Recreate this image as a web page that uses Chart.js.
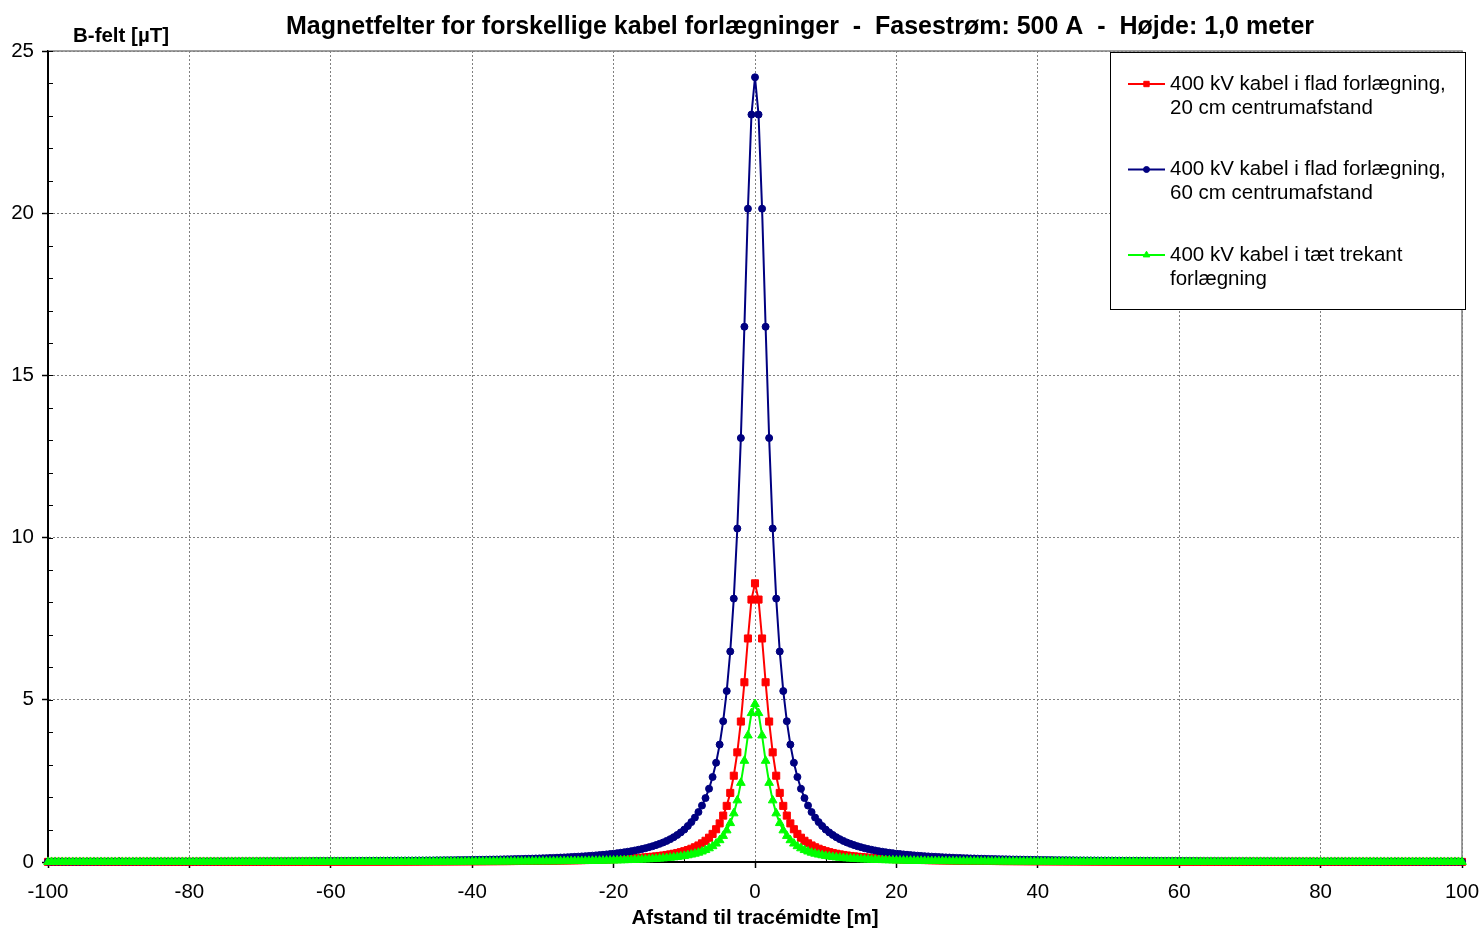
<!DOCTYPE html>
<html>
<head>
<meta charset="utf-8">
<title>Magnetfelter</title>
<script src="https://cdn.jsdelivr.net/npm/chart.js"></script>
<style>
  html, body { margin: 0; padding: 0; background: #fff; }
  canvas { display: block; }
</style>
</head>
<body>
<canvas id="chartField" width="1482" height="928"></canvas>
<script>
var chartTitle = "Magnetfelter for forskellige kabel forlægninger  -  Fasestrøm: 500 A  -  Højde: 1,0 meter";
var yTitle = "B-felt [µT]";
var xTitle = "Afstand til tracémidte [m]";

var legendRed = ["400 kV kabel i flad forlægning,", "20 cm centrumafstand"];
var legendBlue = ["400 kV kabel i flad forlægning,", "60 cm centrumafstand"];
var legendGreen = ["400 kV kabel i tæt trekant", "forlægning"];

// afstand [m], every 0.5 m
var distances = [
    -100, -99.5, -99, -98.5, -98, -97.5, -97, -96.5, -96, -95.5,
    -95, -94.5, -94, -93.5, -93, -92.5, -92, -91.5, -91, -90.5,
    -90, -89.5, -89, -88.5, -88, -87.5, -87, -86.5, -86, -85.5,
    -85, -84.5, -84, -83.5, -83, -82.5, -82, -81.5, -81, -80.5,
    -80, -79.5, -79, -78.5, -78, -77.5, -77, -76.5, -76, -75.5,
    -75, -74.5, -74, -73.5, -73, -72.5, -72, -71.5, -71, -70.5,
    -70, -69.5, -69, -68.5, -68, -67.5, -67, -66.5, -66, -65.5,
    -65, -64.5, -64, -63.5, -63, -62.5, -62, -61.5, -61, -60.5,
    -60, -59.5, -59, -58.5, -58, -57.5, -57, -56.5, -56, -55.5,
    -55, -54.5, -54, -53.5, -53, -52.5, -52, -51.5, -51, -50.5,
    -50, -49.5, -49, -48.5, -48, -47.5, -47, -46.5, -46, -45.5,
    -45, -44.5, -44, -43.5, -43, -42.5, -42, -41.5, -41, -40.5,
    -40, -39.5, -39, -38.5, -38, -37.5, -37, -36.5, -36, -35.5,
    -35, -34.5, -34, -33.5, -33, -32.5, -32, -31.5, -31, -30.5,
    -30, -29.5, -29, -28.5, -28, -27.5, -27, -26.5, -26, -25.5,
    -25, -24.5, -24, -23.5, -23, -22.5, -22, -21.5, -21, -20.5,
    -20, -19.5, -19, -18.5, -18, -17.5, -17, -16.5, -16, -15.5,
    -15, -14.5, -14, -13.5, -13, -12.5, -12, -11.5, -11, -10.5,
    -10, -9.5, -9, -8.5, -8, -7.5, -7, -6.5, -6, -5.5,
    -5, -4.5, -4, -3.5, -3, -2.5, -2, -1.5, -1, -0.5,
    0, 0.5, 1, 1.5, 2, 2.5, 3, 3.5, 4, 4.5,
    5, 5.5, 6, 6.5, 7, 7.5, 8, 8.5, 9, 9.5,
    10, 10.5, 11, 11.5, 12, 12.5, 13, 13.5, 14, 14.5,
    15, 15.5, 16, 16.5, 17, 17.5, 18, 18.5, 19, 19.5,
    20, 20.5, 21, 21.5, 22, 22.5, 23, 23.5, 24, 24.5,
    25, 25.5, 26, 26.5, 27, 27.5, 28, 28.5, 29, 29.5,
    30, 30.5, 31, 31.5, 32, 32.5, 33, 33.5, 34, 34.5,
    35, 35.5, 36, 36.5, 37, 37.5, 38, 38.5, 39, 39.5,
    40, 40.5, 41, 41.5, 42, 42.5, 43, 43.5, 44, 44.5,
    45, 45.5, 46, 46.5, 47, 47.5, 48, 48.5, 49, 49.5,
    50, 50.5, 51, 51.5, 52, 52.5, 53, 53.5, 54, 54.5,
    55, 55.5, 56, 56.5, 57, 57.5, 58, 58.5, 59, 59.5,
    60, 60.5, 61, 61.5, 62, 62.5, 63, 63.5, 64, 64.5,
    65, 65.5, 66, 66.5, 67, 67.5, 68, 68.5, 69, 69.5,
    70, 70.5, 71, 71.5, 72, 72.5, 73, 73.5, 74, 74.5,
    75, 75.5, 76, 76.5, 77, 77.5, 78, 78.5, 79, 79.5,
    80, 80.5, 81, 81.5, 82, 82.5, 83, 83.5, 84, 84.5,
    85, 85.5, 86, 86.5, 87, 87.5, 88, 88.5, 89, 89.5,
    90, 90.5, 91, 91.5, 92, 92.5, 93, 93.5, 94, 94.5,
    95, 95.5, 96, 96.5, 97, 97.5, 98, 98.5, 99, 99.5,
    100
];

// 400 kV flad, 20 cm [uT]
var field20cm = [
    0.003,
    0.004, 0.004, 0.004, 0.004, 0.004, 0.004, 0.004, 0.004, 0.004, 0.004,
    0.004, 0.004, 0.004, 0.004, 0.004, 0.004, 0.004, 0.004, 0.004, 0.004,
    0.004, 0.004, 0.004, 0.004, 0.004, 0.005, 0.005, 0.005, 0.005, 0.005,
    0.005, 0.005, 0.005, 0.005, 0.005, 0.005, 0.005, 0.005, 0.005, 0.005,
    0.005, 0.006, 0.006, 0.006, 0.006, 0.006, 0.006, 0.006, 0.006, 0.006,
    0.006, 0.006, 0.006, 0.006, 0.007, 0.007, 0.007, 0.007, 0.007, 0.007,
    0.007, 0.007, 0.007, 0.007, 0.008, 0.008, 0.008, 0.008, 0.008, 0.008,
    0.008, 0.008, 0.009, 0.009, 0.009, 0.009, 0.009, 0.009, 0.010, 0.010,
    0.010, 0.010, 0.010, 0.010, 0.011, 0.011, 0.011, 0.011, 0.011, 0.011,
    0.012, 0.012, 0.012, 0.012, 0.013, 0.013, 0.013, 0.013, 0.014, 0.014,
    0.014, 0.014, 0.015, 0.015, 0.015, 0.016, 0.016, 0.016, 0.017, 0.017,
    0.017, 0.018, 0.018, 0.019, 0.019, 0.020, 0.020, 0.021, 0.021, 0.022,
    0.022, 0.023, 0.023, 0.024, 0.025, 0.025, 0.026, 0.027, 0.027, 0.028,
    0.029, 0.030, 0.031, 0.032, 0.033, 0.034, 0.035, 0.036, 0.037, 0.038,
    0.040, 0.041, 0.042, 0.044, 0.046, 0.047, 0.049, 0.051, 0.053, 0.055,
    0.057, 0.060, 0.062, 0.065, 0.068, 0.071, 0.074, 0.078, 0.082, 0.086,
    0.090, 0.095, 0.100, 0.106, 0.112, 0.118, 0.125, 0.133, 0.142, 0.151,
    0.162, 0.173, 0.186, 0.200, 0.216, 0.234, 0.254, 0.277, 0.303, 0.333,
    0.368, 0.408, 0.454, 0.509, 0.575, 0.654, 0.749, 0.866, 1.01, 1.19,
    1.43, 1.73, 2.13, 2.66, 3.38, 4.33, 5.54, 6.89, 8.09,
    8.59,
    8.09, 6.89, 5.54, 4.33, 3.38, 2.66, 2.13, 1.73, 1.43,
    1.19, 1.01, 0.866, 0.749, 0.654, 0.575, 0.509, 0.454, 0.408, 0.368,
    0.333, 0.303, 0.277, 0.254, 0.234, 0.216, 0.200, 0.186, 0.173, 0.162,
    0.151, 0.142, 0.133, 0.125, 0.118, 0.112, 0.106, 0.100, 0.095, 0.090,
    0.086, 0.082, 0.078, 0.074, 0.071, 0.068, 0.065, 0.062, 0.060, 0.057,
    0.055, 0.053, 0.051, 0.049, 0.047, 0.046, 0.044, 0.042, 0.041, 0.040,
    0.038, 0.037, 0.036, 0.035, 0.034, 0.033, 0.032, 0.031, 0.030, 0.029,
    0.028, 0.027, 0.027, 0.026, 0.025, 0.025, 0.024, 0.023, 0.023, 0.022,
    0.022, 0.021, 0.021, 0.020, 0.020, 0.019, 0.019, 0.018, 0.018, 0.017,
    0.017, 0.017, 0.016, 0.016, 0.016, 0.015, 0.015, 0.015, 0.014, 0.014,
    0.014, 0.014, 0.013, 0.013, 0.013, 0.013, 0.012, 0.012, 0.012, 0.012,
    0.011, 0.011, 0.011, 0.011, 0.011, 0.011, 0.010, 0.010, 0.010, 0.010,
    0.010, 0.010, 0.009, 0.009, 0.009, 0.009, 0.009, 0.009, 0.008, 0.008,
    0.008, 0.008, 0.008, 0.008, 0.008, 0.008, 0.007, 0.007, 0.007, 0.007,
    0.007, 0.007, 0.007, 0.007, 0.007, 0.007, 0.006, 0.006, 0.006, 0.006,
    0.006, 0.006, 0.006, 0.006, 0.006, 0.006, 0.006, 0.006, 0.006, 0.005,
    0.005, 0.005, 0.005, 0.005, 0.005, 0.005, 0.005, 0.005, 0.005, 0.005,
    0.005, 0.005, 0.005, 0.005, 0.005, 0.004, 0.004, 0.004, 0.004, 0.004,
    0.004, 0.004, 0.004, 0.004, 0.004, 0.004, 0.004, 0.004, 0.004, 0.004,
    0.004, 0.004, 0.004, 0.004, 0.004, 0.004, 0.004, 0.004, 0.004, 0.004,
    0.003
];

// 400 kV flad, 60 cm [uT]
var field60cm = [
    0.010,
    0.011, 0.011, 0.011, 0.011, 0.011, 0.011, 0.011, 0.011, 0.011, 0.012,
    0.012, 0.012, 0.012, 0.012, 0.012, 0.012, 0.012, 0.013, 0.013, 0.013,
    0.013, 0.013, 0.013, 0.013, 0.014, 0.014, 0.014, 0.014, 0.014, 0.014,
    0.015, 0.015, 0.015, 0.015, 0.015, 0.016, 0.016, 0.016, 0.016, 0.016,
    0.016, 0.017, 0.017, 0.017, 0.017, 0.018, 0.018, 0.018, 0.018, 0.019,
    0.019, 0.019, 0.019, 0.020, 0.020, 0.020, 0.020, 0.021, 0.021, 0.021,
    0.022, 0.022, 0.022, 0.023, 0.023, 0.023, 0.024, 0.024, 0.024, 0.025,
    0.025, 0.025, 0.026, 0.026, 0.027, 0.027, 0.028, 0.028, 0.028, 0.029,
    0.029, 0.030, 0.030, 0.031, 0.031, 0.032, 0.033, 0.033, 0.034, 0.034,
    0.035, 0.036, 0.036, 0.037, 0.038, 0.038, 0.039, 0.040, 0.041, 0.042,
    0.042, 0.043, 0.044, 0.045, 0.046, 0.047, 0.048, 0.049, 0.050, 0.051,
    0.052, 0.054, 0.055, 0.056, 0.057, 0.059, 0.060, 0.062, 0.063, 0.065,
    0.066, 0.068, 0.070, 0.072, 0.074, 0.076, 0.078, 0.080, 0.082, 0.085,
    0.087, 0.090, 0.092, 0.095, 0.098, 0.101, 0.104, 0.108, 0.111, 0.115,
    0.119, 0.123, 0.127, 0.132, 0.137, 0.142, 0.147, 0.153, 0.159, 0.165,
    0.172, 0.179, 0.187, 0.195, 0.204, 0.213, 0.223, 0.234, 0.245, 0.257,
    0.271, 0.285, 0.300, 0.317, 0.335, 0.355, 0.377, 0.400, 0.426, 0.455,
    0.486, 0.521, 0.559, 0.602, 0.650, 0.704, 0.765, 0.834, 0.913, 1.00,
    1.11, 1.23, 1.37, 1.54, 1.74, 1.97, 2.26, 2.62, 3.06, 3.62,
    4.34, 5.27, 6.49, 8.12, 10.28, 13.07, 16.50, 20.14, 23.04,
    24.19,
    23.04, 20.14, 16.50, 13.07, 10.28, 8.12, 6.49, 5.27, 4.34,
    3.62, 3.06, 2.62, 2.26, 1.97, 1.74, 1.54, 1.37, 1.23, 1.11,
    1.00, 0.913, 0.834, 0.765, 0.704, 0.650, 0.602, 0.559, 0.521, 0.486,
    0.455, 0.426, 0.400, 0.377, 0.355, 0.335, 0.317, 0.300, 0.285, 0.271,
    0.257, 0.245, 0.234, 0.223, 0.213, 0.204, 0.195, 0.187, 0.179, 0.172,
    0.165, 0.159, 0.153, 0.147, 0.142, 0.137, 0.132, 0.127, 0.123, 0.119,
    0.115, 0.111, 0.108, 0.104, 0.101, 0.098, 0.095, 0.092, 0.090, 0.087,
    0.085, 0.082, 0.080, 0.078, 0.076, 0.074, 0.072, 0.070, 0.068, 0.066,
    0.065, 0.063, 0.062, 0.060, 0.059, 0.057, 0.056, 0.055, 0.054, 0.052,
    0.051, 0.050, 0.049, 0.048, 0.047, 0.046, 0.045, 0.044, 0.043, 0.042,
    0.042, 0.041, 0.040, 0.039, 0.038, 0.038, 0.037, 0.036, 0.036, 0.035,
    0.034, 0.034, 0.033, 0.033, 0.032, 0.031, 0.031, 0.030, 0.030, 0.029,
    0.029, 0.028, 0.028, 0.028, 0.027, 0.027, 0.026, 0.026, 0.025, 0.025,
    0.025, 0.024, 0.024, 0.024, 0.023, 0.023, 0.023, 0.022, 0.022, 0.022,
    0.021, 0.021, 0.021, 0.020, 0.020, 0.020, 0.020, 0.019, 0.019, 0.019,
    0.019, 0.018, 0.018, 0.018, 0.018, 0.017, 0.017, 0.017, 0.017, 0.016,
    0.016, 0.016, 0.016, 0.016, 0.016, 0.015, 0.015, 0.015, 0.015, 0.015,
    0.014, 0.014, 0.014, 0.014, 0.014, 0.014, 0.013, 0.013, 0.013, 0.013,
    0.013, 0.013, 0.013, 0.012, 0.012, 0.012, 0.012, 0.012, 0.012, 0.012,
    0.012, 0.011, 0.011, 0.011, 0.011, 0.011, 0.011, 0.011, 0.011, 0.011,
    0.010
];

// 400 kV tæt trekant [uT]
var fieldTrefoil = [
    0.002,
    0.002, 0.002, 0.002, 0.002, 0.002, 0.002, 0.002, 0.002, 0.002, 0.002,
    0.002, 0.002, 0.002, 0.002, 0.002, 0.002, 0.002, 0.002, 0.002, 0.002,
    0.003, 0.003, 0.003, 0.003, 0.003, 0.003, 0.003, 0.003, 0.003, 0.003,
    0.003, 0.003, 0.003, 0.003, 0.003, 0.003, 0.003, 0.003, 0.003, 0.003,
    0.003, 0.003, 0.003, 0.003, 0.003, 0.003, 0.003, 0.003, 0.003, 0.003,
    0.004, 0.004, 0.004, 0.004, 0.004, 0.004, 0.004, 0.004, 0.004, 0.004,
    0.004, 0.004, 0.004, 0.004, 0.004, 0.004, 0.004, 0.004, 0.005, 0.005,
    0.005, 0.005, 0.005, 0.005, 0.005, 0.005, 0.005, 0.005, 0.005, 0.005,
    0.006, 0.006, 0.006, 0.006, 0.006, 0.006, 0.006, 0.006, 0.006, 0.006,
    0.007, 0.007, 0.007, 0.007, 0.007, 0.007, 0.007, 0.007, 0.008, 0.008,
    0.008, 0.008, 0.008, 0.008, 0.009, 0.009, 0.009, 0.009, 0.009, 0.010,
    0.010, 0.010, 0.010, 0.011, 0.011, 0.011, 0.011, 0.012, 0.012, 0.012,
    0.012, 0.013, 0.013, 0.013, 0.014, 0.014, 0.015, 0.015, 0.015, 0.016,
    0.016, 0.017, 0.017, 0.018, 0.018, 0.019, 0.020, 0.020, 0.021, 0.022,
    0.022, 0.023, 0.024, 0.025, 0.026, 0.027, 0.028, 0.029, 0.030, 0.031,
    0.032, 0.034, 0.035, 0.037, 0.038, 0.040, 0.042, 0.044, 0.046, 0.048,
    0.051, 0.053, 0.056, 0.059, 0.063, 0.067, 0.071, 0.075, 0.080, 0.085,
    0.091, 0.098, 0.105, 0.113, 0.122, 0.132, 0.143, 0.156, 0.171, 0.188,
    0.207, 0.229, 0.256, 0.287, 0.324, 0.368, 0.422, 0.488, 0.569, 0.672,
    0.804, 0.975, 1.20, 1.50, 1.90, 2.44, 3.12, 3.90, 4.59,
    4.87,
    4.59, 3.90, 3.12, 2.44, 1.90, 1.50, 1.20, 0.975, 0.804,
    0.672, 0.569, 0.488, 0.422, 0.368, 0.324, 0.287, 0.256, 0.229, 0.207,
    0.188, 0.171, 0.156, 0.143, 0.132, 0.122, 0.113, 0.105, 0.098, 0.091,
    0.085, 0.080, 0.075, 0.071, 0.067, 0.063, 0.059, 0.056, 0.053, 0.051,
    0.048, 0.046, 0.044, 0.042, 0.040, 0.038, 0.037, 0.035, 0.034, 0.032,
    0.031, 0.030, 0.029, 0.028, 0.027, 0.026, 0.025, 0.024, 0.023, 0.022,
    0.022, 0.021, 0.020, 0.020, 0.019, 0.018, 0.018, 0.017, 0.017, 0.016,
    0.016, 0.015, 0.015, 0.015, 0.014, 0.014, 0.013, 0.013, 0.013, 0.012,
    0.012, 0.012, 0.012, 0.011, 0.011, 0.011, 0.011, 0.010, 0.010, 0.010,
    0.010, 0.009, 0.009, 0.009, 0.009, 0.009, 0.008, 0.008, 0.008, 0.008,
    0.008, 0.008, 0.007, 0.007, 0.007, 0.007, 0.007, 0.007, 0.007, 0.007,
    0.006, 0.006, 0.006, 0.006, 0.006, 0.006, 0.006, 0.006, 0.006, 0.006,
    0.005, 0.005, 0.005, 0.005, 0.005, 0.005, 0.005, 0.005, 0.005, 0.005,
    0.005, 0.005, 0.004, 0.004, 0.004, 0.004, 0.004, 0.004, 0.004, 0.004,
    0.004, 0.004, 0.004, 0.004, 0.004, 0.004, 0.004, 0.004, 0.004, 0.004,
    0.003, 0.003, 0.003, 0.003, 0.003, 0.003, 0.003, 0.003, 0.003, 0.003,
    0.003, 0.003, 0.003, 0.003, 0.003, 0.003, 0.003, 0.003, 0.003, 0.003,
    0.003, 0.003, 0.003, 0.003, 0.003, 0.003, 0.003, 0.003, 0.003, 0.003,
    0.002, 0.002, 0.002, 0.002, 0.002, 0.002, 0.002, 0.002, 0.002, 0.002,
    0.002, 0.002, 0.002, 0.002, 0.002, 0.002, 0.002, 0.002, 0.002, 0.002,
    0.002
];

[field20cm, field60cm, fieldTrefoil].forEach(function (arr) {
    if (arr.length !== distances.length) {
        throw new Error("length mismatch " + arr.length + " vs " + distances.length);
    }
});

var fontFamily = "'Liberation Sans', Arial, sans-serif";
Chart.defaults.font.family = fontFamily;
Chart.defaults.color = "#000";

// title, y label, minor ticks, plot frame and legend box
var decorPlugin = {
    id: 'decor',
    beforeDraw: function (chart) {
        var ctx = chart.ctx;
        ctx.save();
        ctx.fillStyle = "#fff";
        ctx.fillRect(0, 0, chart.width, chart.height);
        ctx.restore();
    },
    beforeDatasetsDraw: function (chart) {
        var ctx = chart.ctx;
        var area = chart.chartArea;
        ctx.save();
        ctx.strokeStyle = "#808080";
        ctx.lineWidth = 1.5;
        ctx.beginPath();
        ctx.moveTo(area.left, area.top);
        ctx.lineTo(area.right, area.top);
        ctx.lineTo(area.right, area.bottom);
        ctx.stroke();

        // minor ticks inside
        var xs = chart.scales.x, ys = chart.scales.y;
        ctx.strokeStyle = "#000";
        ctx.lineWidth = 1;
        ctx.beginPath();
        for (var v = 0; v <= 25; v++) {
            var py = Math.round(ys.getPixelForValue(v)) + 0.5;
            ctx.moveTo(area.left, py);
            ctx.lineTo(area.left + 5, py);
        }
        for (var u = -90; u <= 90; u += 20) {
            var px = Math.round(xs.getPixelForValue(u)) + 0.5;
            ctx.moveTo(px, area.bottom);
            ctx.lineTo(px, area.bottom - 5);
        }
        ctx.stroke();
        ctx.restore();
    },
    afterDraw: function (chart) {
        var ctx = chart.ctx;
        ctx.save();
        ctx.fillStyle = "#000";
        ctx.textBaseline = "middle";

        ctx.font = "bold 25px " + fontFamily;
        ctx.textAlign = "center";
        ctx.fillText(chartTitle, 800, 27);

        ctx.font = "bold 20.5px " + fontFamily;
        ctx.textAlign = "left";
        ctx.fillText(yTitle, 73, 36);

        // legend
        var box = { left: 1110, top: 52, right: 1465, bottom: 309 };
        ctx.fillStyle = "#fff";
        ctx.fillRect(box.left, box.top, box.right - box.left, box.bottom - box.top);
        ctx.strokeStyle = "#000";
        ctx.lineWidth = 1;
        ctx.strokeRect(box.left + 0.5, box.top + 0.5, box.right - box.left, box.bottom - box.top);

        var entries = [legendRed, legendBlue, legendGreen];
        chart.data.datasets.forEach(function (ds, i) {
            var y = 84 + i * 85.5;
            ctx.strokeStyle = ds.borderColor;
            ctx.lineWidth = 2;
            ctx.beginPath();
            ctx.moveTo(1128, y);
            ctx.lineTo(1165, y);
            ctx.stroke();
            ctx.fillStyle = ds.borderColor;
            ctx.strokeStyle = ds.borderColor;
            ctx.lineWidth = 1;
            Chart.helpers.drawPoint(ctx, {
                pointStyle: ds.pointStyle,
                radius: ds.legendRadius,
                rotation: 0,
                borderWidth: 1
            }, 1146.5, y);

            ctx.fillStyle = "#000";
            ctx.font = "20.5px " + fontFamily;
            ctx.textAlign = "left";
            entries[i].forEach(function (line, j) {
                ctx.fillText(line, 1170, y + j * 24);
            });
        });
        ctx.restore();
    }
};

function makeSeries(label, data, color, style, radius, legendRadius, order) {
    return {
        label: label,
        data: data,
        borderColor: color,
        backgroundColor: color,
        borderWidth: 2,
        pointStyle: style,
        pointRadius: radius,
        pointBorderWidth: 1,
        pointBackgroundColor: color,
        pointBorderColor: color,
        legendRadius: legendRadius,
        tension: 0,
        fill: false,
        clip: false,
        order: order
    };
}

var tickFont = { family: fontFamily, size: 20.5 };

var fieldChart = new Chart(document.getElementById("chartField").getContext("2d"), {
    type: 'line',
    data: {
        labels: distances,
        datasets: [
            makeSeries(legendRed.join(" "), field20cm, "#FF0000", 'rect', 5, 3.8, 3),
            makeSeries(legendBlue.join(" "), field60cm, "#000080", 'circle', 3.5, 3, 2),
            makeSeries(legendGreen.join(" "), fieldTrefoil, "#00FF00", 'triangle', 5, 3.8, 1)
        ]
    },
    options: {
        responsive: false,
        animation: false,
        events: [],
        layout: { padding: { top: 51, right: 20, bottom: 0, left: 0 } },
        plugins: {
            legend: { display: false },
            tooltip: { enabled: false },
            title: { display: false }
        },
        scales: {
            x: {
                type: 'linear',
                min: -100,
                max: 100,
                ticks: { stepSize: 20, font: tickFont, color: "#000", padding: 12, maxRotation: 0, autoSkip: false },
                grid: { color: "#808080", lineWidth: 1, tickLength: 6, tickColor: "#000", tickWidth: 1.5 },
                border: { display: true, color: "#000", width: 2, dash: [2, 2] },
                title: {
                    display: true,
                    text: xTitle,
                    font: { family: fontFamily, size: 20.5, weight: 'bold', lineHeight: 1 },
                    color: "#000",
                    padding: { top: 0, bottom: -1 }
                },
                afterFit: function (scale) {
                    scale.height = 66;
                    scale.paddingLeft = 0;
                    scale.paddingRight = 0;
                }
            },
            y: {
                min: 0,
                max: 25,
                ticks: { stepSize: 5, font: tickFont, color: "#000", padding: 8 },
                grid: { color: "#808080", lineWidth: 1, tickLength: 6, tickColor: "#000", tickWidth: 1.5 },
                border: { display: true, color: "#000", width: 2, dash: [2, 2] },
                afterFit: function (scale) {
                    scale.width = 48;
                    scale.paddingTop = 0;
                    scale.paddingBottom = 0;
                }
            }
        }
    },
    plugins: [decorPlugin]
});
</script>
</body>
</html>
